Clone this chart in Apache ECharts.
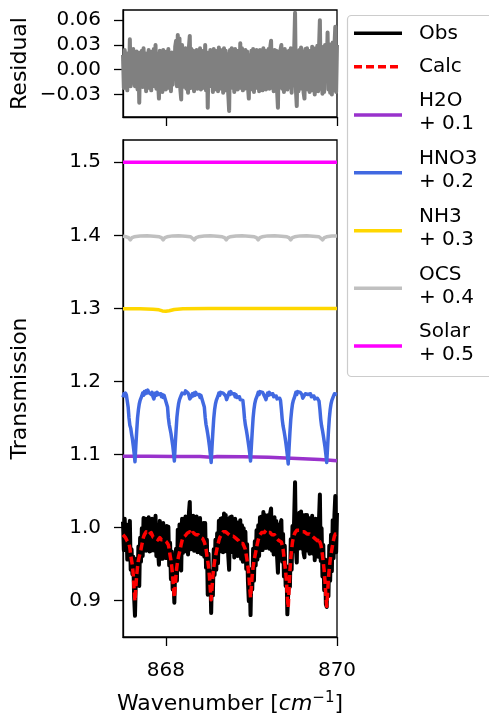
<!DOCTYPE html>
<html><head><meta charset="utf-8">
<script src="https://cdn.jsdelivr.net/npm/echarts@6/dist/echarts.min.js"></script>
<style>html,body{margin:0;padding:0;background:#fff}#c{width:489px;height:717px}</style>
</head><body><div id="c"></div>
<script>
// Spectral sampling grid (cm^-1)
const wnStart = 867.50, wnStep = 0.01;

const obs = [
1.008,0.969,1.012,0.971,1.004,0.956,0.991,0.960,1.009,0.942,
0.970,0.936,0.960,0.905,0.879,0.928,0.957,0.922,0.974,0.920,
0.986,0.953,0.999,0.961,1.013,0.976,1.012,0.968,1.012,0.974,
1.014,0.967,1.007,0.968,1.012,0.969,1.011,0.968,1.016,0.961,
1.004,0.967,0.949,1.009,0.964,1.001,0.957,1.006,0.968,1.001,
0.958,1.002,0.960,1.001,0.948,0.979,0.929,0.967,0.915,0.928,
0.897,0.948,0.971,0.927,0.997,0.943,1.004,0.947,0.941,1.012,
0.965,1.012,0.970,1.015,0.967,1.012,0.963,1.020,1.035,0.970,
1.015,0.972,1.016,0.968,1.010,0.969,1.015,0.966,1.012,0.971,
1.013,0.964,1.005,0.963,1.006,0.960,1.006,0.945,0.983,0.908,
0.964,0.913,0.939,0.883,0.940,0.907,0.970,0.935,0.983,0.942,
0.992,0.951,1.009,0.968,1.012,0.967,1.013,0.966,1.019,0.975,
1.017,0.967,1.012,0.961,0.942,1.014,0.966,1.015,0.971,1.010,
0.959,1.012,0.965,1.007,0.961,1.003,0.962,1.010,0.957,1.003,
0.953,0.999,0.953,0.994,0.943,0.977,0.925,0.899,0.936,0.880,
0.943,0.915,0.971,0.927,0.981,0.948,0.996,0.956,1.003,0.961,
1.014,0.973,1.015,0.969,1.021,0.972,1.017,0.972,1.015,0.975,
1.017,0.971,1.020,1.026,0.968,1.012,0.963,1.014,0.968,1.009,
0.960,0.938,1.004,0.964,1.005,1.010,0.953,0.991,0.933,0.975,
0.920,0.947,0.881,0.882,0.938,0.919,0.984,0.942,1.002,0.967,
1.015,1.062,0.971,0.952,1.016,0.971,1.020,0.977,1.022,0.971,
1.017,0.965,0.959,1.017,0.972,1.017,0.968,1.013,0.964,1.010,
0.968,1.016,0.964,1.011,0.955,1.012,0.963,1.011,0.960,1.012,
1.045,0.954,0.999,0.933,0.976,0.914,0.956,0.895,0.891,0.955,
0.906,0.975,0.927,0.990,0.940,1.010,0.958,1.017,1.043,0.966,
1.020];

const calc = [
0.990,0.991,0.988,0.986,0.984,0.981,0.979,0.978,0.972,0.962,
0.955,0.948,0.935,0.915,0.899,0.918,0.935,0.946,0.955,0.960,
0.965,0.970,0.976,0.982,0.987,0.990,0.992,0.994,0.995,0.993,
0.990,0.989,0.991,0.993,0.990,0.987,0.986,0.988,0.986,0.984,
0.985,0.983,0.984,0.986,0.985,0.983,0.984,0.982,0.983,0.981,
0.982,0.980,0.979,0.976,0.970,0.962,0.955,0.946,0.933,0.916,
0.904,0.920,0.936,0.947,0.955,0.961,0.966,0.971,0.977,0.982,
0.986,0.988,0.987,0.989,0.990,0.992,0.991,0.993,0.994,0.992,
0.990,0.991,0.993,0.994,0.992,0.990,0.991,0.989,0.990,0.988,
0.987,0.988,0.986,0.985,0.983,0.980,0.976,0.970,0.962,0.954,
0.946,0.933,0.915,0.901,0.918,0.934,0.945,0.954,0.960,0.966,
0.972,0.977,0.982,0.986,0.988,0.990,0.992,0.994,0.993,0.995,
0.994,0.992,0.993,0.991,0.992,0.990,0.988,0.989,0.990,0.988,
0.986,0.987,0.985,0.984,0.985,0.982,0.980,0.978,0.979,0.977,
0.978,0.979,0.976,0.970,0.962,0.955,0.946,0.934,0.918,0.904,
0.920,0.935,0.946,0.954,0.960,0.966,0.972,0.978,0.983,0.987,
0.990,0.992,0.993,0.994,0.995,0.993,0.994,0.996,0.995,0.993,
0.992,0.994,0.993,0.991,0.990,0.991,0.989,0.990,0.988,0.986,
0.985,0.984,0.982,0.983,0.981,0.980,0.976,0.970,0.960,0.950,
0.940,0.925,0.905,0.890,0.915,0.940,0.958,0.970,0.980,0.986,
0.990,0.993,0.995,0.996,0.995,0.997,0.996,0.997,0.995,0.994,
0.995,0.993,0.994,0.992,0.993,0.991,0.992,0.990,0.991,0.989,
0.990,0.988,0.989,0.987,0.985,0.986,0.984,0.982,0.986,0.985,
0.985,0.977,0.971,0.962,0.952,0.941,0.926,0.907,0.892,0.910,
0.930,0.944,0.955,0.963,0.970,0.977,0.983,0.988,0.991,0.993,
0.990];

const residual = [
0.018,-0.022,0.024,-0.015,0.020,-0.025,0.012,-0.018,0.037,-0.020,
0.015,-0.012,0.025,-0.010,-0.020,0.010,0.022,-0.024,0.019,-0.040,
0.021,-0.017,0.023,-0.021,0.026,-0.014,0.020,-0.026,0.017,-0.019,
0.024,-0.022,0.016,-0.025,0.022,-0.018,0.025,-0.020,0.030,-0.023,
0.019,-0.016,-0.035,0.023,-0.021,0.018,-0.027,0.024,-0.015,0.020,
-0.024,0.022,-0.019,0.025,-0.022,0.017,-0.026,0.021,-0.018,0.012,
-0.007,0.028,0.035,-0.020,0.042,-0.018,0.038,-0.024,-0.036,0.030,
-0.021,0.024,-0.017,0.026,-0.023,0.020,-0.028,0.027,0.041,-0.022,
0.025,-0.019,0.023,-0.026,0.018,-0.021,0.024,-0.023,0.022,-0.017,
0.026,-0.024,0.019,-0.022,0.023,-0.020,0.030,-0.025,0.021,-0.046,
0.018,-0.020,0.024,-0.018,0.022,-0.027,0.025,-0.019,0.023,-0.024,
0.020,-0.026,0.027,-0.018,0.024,-0.023,0.021,-0.028,0.026,-0.020,
0.023,-0.025,0.019,-0.030,-0.050,0.024,-0.022,0.026,-0.019,0.022,
-0.027,0.025,-0.020,0.023,-0.024,0.021,-0.018,0.032,-0.022,0.026,
-0.025,0.020,-0.023,0.024,-0.019,0.022,-0.021,-0.035,0.018,-0.024,
0.023,-0.020,0.025,-0.027,0.021,-0.018,0.024,-0.022,0.020,-0.026,
0.024,-0.019,0.022,-0.025,0.026,-0.021,0.023,-0.024,0.020,-0.018,
0.025,-0.023,0.027,0.035,-0.022,0.021,-0.026,0.024,-0.020,0.023,
-0.025,-0.046,0.022,-0.019,0.024,0.030,-0.023,0.021,-0.027,0.025,
-0.020,0.022,-0.024,-0.008,0.023,-0.021,0.026,-0.028,0.022,-0.019,
0.025,0.069,-0.024,-0.044,0.021,-0.026,0.024,-0.020,0.027,-0.023,
0.022,-0.028,-0.035,0.025,-0.021,0.026,-0.024,0.023,-0.027,0.021,
-0.022,0.028,-0.025,0.024,-0.030,0.026,-0.021,0.029,-0.026,0.027,
0.060,-0.023,0.028,-0.029,0.024,-0.027,0.030,-0.012,-0.001,0.045,
-0.024,0.031,-0.028,0.027,-0.030,0.033,-0.025,0.029,0.052,-0.027,
0.030];

const hno3 = [
1.178,1.183,1.180,1.184,1.181,1.180,1.165,1.150,1.140,1.136,
1.128,1.121,1.112,1.102,1.090,1.112,1.132,1.150,1.161,1.169,
1.174,1.177,1.180,1.184,1.181,1.186,1.183,1.187,1.184,1.188,
1.185,1.183,1.186,1.182,1.185,1.179,1.176,1.180,1.184,1.181,
1.185,1.182,1.184,1.180,1.183,1.179,1.182,1.178,1.181,1.177,
1.179,1.176,1.165,1.150,1.141,1.135,1.129,1.121,1.113,1.103,
1.091,1.113,1.133,1.151,1.162,1.170,1.175,1.178,1.181,1.184,
1.182,1.186,1.183,1.187,1.185,1.188,1.184,1.181,1.176,1.174,
1.179,1.183,1.180,1.184,1.181,1.185,1.182,1.184,1.180,1.182,
1.178,1.181,1.177,1.179,1.176,1.165,1.151,1.141,1.135,1.128,
1.120,1.111,1.101,1.089,1.111,1.131,1.149,1.161,1.169,1.174,
1.177,1.180,1.184,1.181,1.185,1.183,1.187,1.184,1.186,1.183,
1.180,1.175,1.178,1.182,1.185,1.182,1.186,1.183,1.184,1.181,
1.183,1.179,1.182,1.178,1.180,1.176,1.179,1.175,1.177,1.176,
1.174,1.163,1.149,1.140,1.134,1.127,1.119,1.111,1.102,1.091,
1.112,1.132,1.150,1.162,1.170,1.175,1.178,1.181,1.185,1.182,
1.186,1.184,1.188,1.185,1.187,1.183,1.178,1.175,1.180,1.184,
1.181,1.185,1.182,1.184,1.180,1.183,1.179,1.181,1.177,1.180,
1.176,1.178,1.175,1.177,1.174,1.162,1.148,1.139,1.133,1.126,
1.118,1.109,1.099,1.087,1.109,1.130,1.148,1.160,1.169,1.174,
1.177,1.181,1.185,1.182,1.186,1.184,1.188,1.185,1.187,1.182,
1.177,1.175,1.179,1.183,1.181,1.185,1.182,1.184,1.180,1.183,
1.179,1.181,1.178,1.180,1.176,1.178,1.175,1.177,1.176,1.173,
1.162,1.148,1.139,1.133,1.126,1.118,1.110,1.100,1.089,1.110,
1.131,1.149,1.161,1.169,1.174,1.177,1.180,1.183,1.181,1.184,
1.182];

const h2oWn = [867.50, 867.80, 868.10, 868.40, 868.53, 868.60, 868.90, 869.20, 869.40, 869.60, 869.80, 870.00];
const h2o   = [1.0975, 1.0975, 1.0972, 1.0970, 1.0962, 1.0970, 1.0968, 1.0960, 1.0952, 1.0942, 1.0930, 1.0912];

const nh3Wn = [867.50, 867.70, 867.85, 867.92, 867.96, 868.00, 868.04, 868.10, 868.20, 868.50, 869.00, 869.50, 870.00];
const nh3   = [1.2995, 1.2993, 1.2988, 1.2980, 1.2965, 1.2960, 1.2968, 1.2985, 1.2995, 1.2997, 1.2998, 1.2998, 1.2998];

const ocsWn = [867.50,867.54,867.565,867.585,867.605,867.63,867.70,867.78,867.86,867.925,867.949,867.969,867.989,868.015,
868.08,868.15,868.23,868.29,868.313,868.333,868.353,868.38,868.45,868.52,868.60,868.66,868.686,868.706,868.726,868.75,
868.82,868.89,868.97,869.035,869.059,869.079,869.099,869.125,869.19,869.27,869.35,869.415,869.439,869.459,869.479,869.505,
869.57,869.645,869.72,869.79,869.812,869.832,869.852,869.878,869.94,870.00];
const ocs = [1.3988,1.3980,1.3968,1.3938,1.3968,1.3980,1.3992,1.3994,1.3988,1.3980,1.3968,1.3938,1.3968,1.3980,
1.3992,1.3994,1.3988,1.3980,1.3968,1.3938,1.3968,1.3980,1.3992,1.3994,1.3988,1.3980,1.3968,1.3938,1.3968,1.3980,
1.3992,1.3994,1.3988,1.3980,1.3968,1.3938,1.3968,1.3980,1.3992,1.3994,1.3988,1.3980,1.3968,1.3938,1.3968,1.3980,
1.3992,1.3994,1.3988,1.3980,1.3968,1.3938,1.3968,1.3980,1.3990,1.3992];

const solarWn = [867.50, 870.00];
const solar   = [1.5, 1.5];

const xTicks = [868, 870];
const residTicks = [-0.03, 0.00, 0.03, 0.06];
const transTicks = [0.9, 1.0, 1.1, 1.2, 1.3, 1.4, 1.5];

const seriesNames = ['Obs', 'Calc', 'H2O + 0.1', 'HNO3 + 0.2', 'NH3 + 0.3', 'OCS + 0.4', 'Solar + 0.5'];
const legendLines = [['Obs'], ['Calc'], ['H2O', '+ 0.1'], ['HNO3', '+ 0.2'], ['NH3', '+ 0.3'], ['OCS', '+ 0.4'], ['Solar', '+ 0.5']];

// ---------- rendering ----------
const FONT = 'DejaVu Sans';
const FS = 20;      // tick labels and legend
const FS_NAME = 22; // axis titles
const colors = ['#000000', '#ff0000', '#9932cc', '#4169e1', '#ffd700', '#c0c0c0', '#ff00ff'];
const dashes = [null, [8, 4], null, null, null, null, null];
const widths = [4, 3.5, 3.5, 3.5, 3.5, 3.5, 3.5];

const wn = obs.map((_, i) => +(wnStart + i * wnStep).toFixed(2));
const pairs = (xs, ys) => ys.map((y, i) => [xs[i], y]);
const minus = s => s.replace('-', '\u2212');

const chart = echarts.init(document.getElementById('c'), null, { renderer: 'canvas' });

const tickStyle = { color: '#000', width: 1.3 };
const axisLineStyle = { show: true, onZero: false, lineStyle: { color: '#000', width: 1.3 } };

const lineSeries = (name, data, xi, color, dash, w) => ({
  name, type: 'line', xAxisIndex: xi, yAxisIndex: xi, data,
  showSymbol: false, symbol: 'none', clip: true, animation: false,
  lineStyle: { color, width: w, type: dash || 'solid', cap: 'butt', join: 'round' },
  itemStyle: { color }
});

const bottomData = [
  pairs(wn, obs), pairs(wn, calc), pairs(h2oWn, h2o), pairs(wn, hno3),
  pairs(nh3Wn, nh3), pairs(ocsWn, ocs), pairs(solarWn, solar)
];

const series = [lineSeries('Residual', pairs(wn, residual), 0, '#808080', null, 4)];
seriesNames.forEach((n, k) => series.push(lineSeries(n, bottomData[k], 1, colors[k], dashes[k], widths[k])));

// legend drawn as graphic (matplotlib-style box)
const legendY = [33.3, 66.7, 115, 172.7, 230.7, 288.3, 346];
const graphics = [{
  type: 'rect', z: 10,
  shape: { x: 347.5, y: 15.5, width: 160, height: 361, r: 4 },
  style: { fill: 'rgba(255,255,255,0.85)', stroke: '#cccccc', lineWidth: 1.2 }
}];
legendLines.forEach((lines, k) => {
  const y = legendY[k];
  graphics.push({
    type: 'line', z: 11,
    shape: { x1: 354, y1: y, x2: 402, y2: y },
    style: { stroke: colors[k], lineWidth: 3.5, lineDash: dashes[k] || null }
  });
  const offs = lines.length === 1 ? [0] : [-14, 9];
  lines.forEach((t, j) => graphics.push({
    type: 'text', z: 11, x: 419, y: y + offs[j],
    style: { text: t, fill: '#000', fontSize: FS, fontFamily: FONT, verticalAlign: 'middle', align: 'left' }
  }));
});

const gridBase = { left: 123, width: 214, show: true, borderColor: '#000', borderWidth: 1.3,
  backgroundColor: 'transparent', containLabel: false, outerBoundsMode: 'none' };

const option = {
  animation: false,
  backgroundColor: '#ffffff',
  textStyle: { fontFamily: FONT },
  grid: [
    Object.assign({}, gridBase, { top: 10, height: 107 }),
    Object.assign({}, gridBase, { top: 140, height: 497 })
  ],
  xAxis: [
    { gridIndex: 0, type: 'value', min: 867.5, max: 870, position: 'bottom',
      axisLine: axisLineStyle, splitLine: { show: false },
      axisTick: { show: true, customValues: xTicks, length: 9, lineStyle: tickStyle },
      axisLabel: { show: false, customValues: xTicks } },
    { gridIndex: 1, type: 'value', min: 867.5, max: 870, position: 'bottom',
      axisLine: axisLineStyle, splitLine: { show: false },
      axisTick: { show: true, customValues: xTicks, length: 9, lineStyle: tickStyle },
      axisLabel: { customValues: xTicks, margin: 24, fontSize: FS, color: '#000', fontFamily: FONT,
        formatter: v => String(Math.round(v)) },
      name: 'Wavenumber [{i|cm}{s|\u22121}]', nameLocation: 'middle', nameGap: 54,
      nameTextStyle: { fontSize: FS_NAME, color: '#000', fontFamily: FONT, lineHeight: 27,
        rich: { i: { fontStyle: 'italic', fontSize: FS_NAME, fontFamily: FONT, color: '#000', lineHeight: 27 },
                s: { fontSize: 15, fontFamily: FONT, color: '#000', lineHeight: 15, verticalAlign: 'top' } } } }
  ],
  yAxis: [
    { gridIndex: 0, type: 'value', min: -0.0573, max: 0.0724, position: 'left',
      axisLine: axisLineStyle, splitLine: { show: false },
      axisTick: { show: true, customValues: residTicks, length: 9, lineStyle: tickStyle },
      axisLabel: { customValues: residTicks, margin: 22, fontSize: FS, color: '#000', fontFamily: FONT,
        formatter: v => minus(v.toFixed(2)) },
      name: 'Residual', nameLocation: 'middle', nameRotate: 90, nameGap: 92,
      nameTextStyle: { fontSize: FS_NAME, color: '#000', fontFamily: FONT } },
    { gridIndex: 1, type: 'value', min: 0.850, max: 1.5305, position: 'left',
      axisLine: axisLineStyle, splitLine: { show: false },
      axisTick: { show: true, customValues: transTicks, length: 9, lineStyle: tickStyle },
      axisLabel: { customValues: transTicks, margin: 22, fontSize: FS, color: '#000', fontFamily: FONT,
        formatter: v => v.toFixed(1) },
      name: 'Transmission', nameLocation: 'middle', nameRotate: 90, nameGap: 92,
      nameTextStyle: { fontSize: FS_NAME, color: '#000', fontFamily: FONT } }
  ],
  graphic: graphics,
  series
};
chart.setOption(option);
</script>
</body></html>
